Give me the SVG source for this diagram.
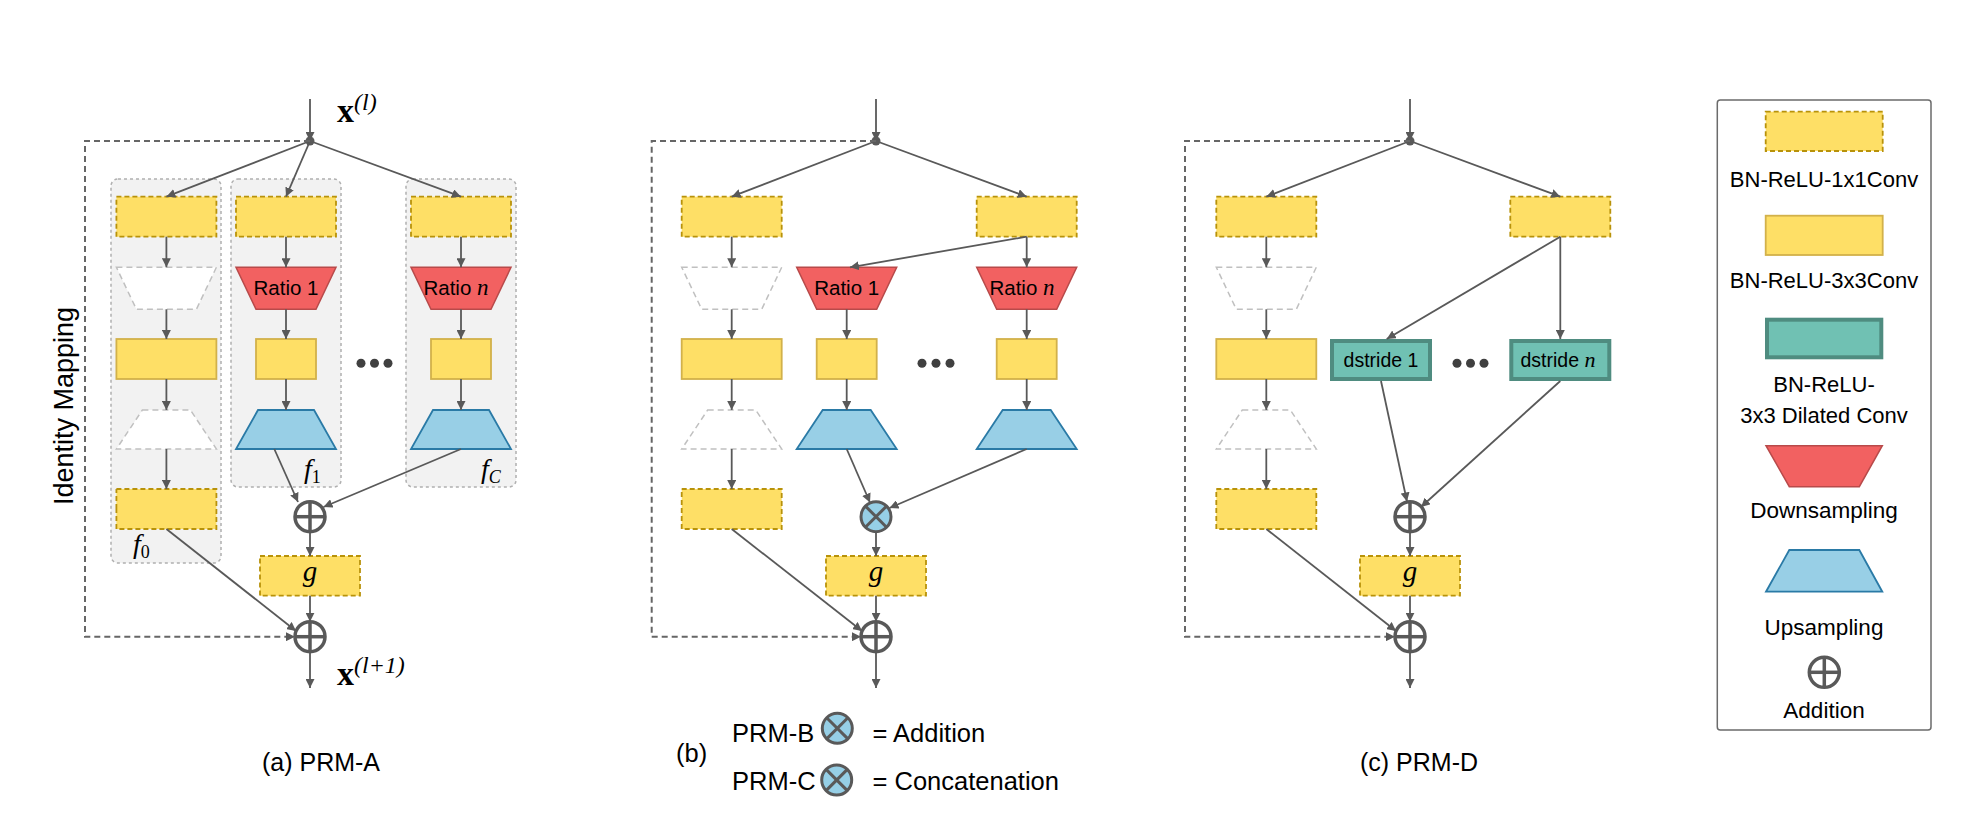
<svg xmlns="http://www.w3.org/2000/svg" width="1983" height="820" viewBox="0 0 1983 820">
<style>
.bg{fill:#ffffff}
.grp{fill:#f2f2f2;stroke:#b0b0b0;stroke-width:1.5;stroke-dasharray:3 3}
.c1{fill:#fedf66;stroke:#b8920a;stroke-width:1.8;stroke-dasharray:5 3}
.c3{fill:#fedf66;stroke:#d2b14a;stroke-width:1.8}
.ph{fill:#ffffff;stroke:#c0c0c0;stroke-width:1.5;stroke-dasharray:6 4}
.down{fill:#f26161;stroke:#b84a4a;stroke-width:1.5}
.up{fill:#98cfe6;stroke:#2a7aa6;stroke-width:1.8}
.dil{fill:#70c1b3;stroke:#4f8c80;stroke-width:4}
.ln{fill:none;stroke:#595959;stroke-width:1.8}
.idm{fill:none;stroke:#666666;stroke-width:2;stroke-dasharray:6 4}
.op{fill:#ffffff;stroke:#595959;stroke-width:3.5}
.cat{fill:#96cfe6;stroke:#595959;stroke-width:3}
.sym{stroke:#595959;stroke-width:3.5}
.t{font-family:"Liberation Sans",Arial,sans-serif;fill:#000000}
.m{font-family:"Liberation Serif","Times New Roman",serif;font-style:italic;fill:#000000}
.mb{font-family:"Liberation Serif","Times New Roman",serif;font-weight:bold;fill:#000000}
.dot{fill:#404040}
</style>
<defs>
<marker id="arr" markerUnits="userSpaceOnUse" markerWidth="10" markerHeight="9" refX="9" refY="4.5" orient="auto">
<path d="M0,0 L9,4.5 L0,9 z" fill="#595959"/>
</marker>
<g id="plus">
<circle r="15" class="op"/>
<line x1="-15" y1="0" x2="15" y2="0" class="sym"/>
<line x1="0" y1="-15" x2="0" y2="15" class="sym"/>
</g>
<g id="cross">
<circle r="15" class="cat"/>
<line x1="-10.6" y1="-10.6" x2="10.6" y2="10.6" stroke="#595959" stroke-width="3"/>
<line x1="-10.6" y1="10.6" x2="10.6" y2="-10.6" stroke="#595959" stroke-width="3"/>
</g>
</defs>
<rect class="bg" x="0" y="0" width="1983" height="820"/>

<!-- ============ Panel A ============ -->
<g id="panelA-groups">
<rect id="grp-f0" class="grp" x="111" y="179" width="110" height="384" rx="7"/>
<rect id="grp-f1" class="grp" x="231" y="179" width="110" height="308" rx="7"/>
<rect id="grp-fC" class="grp" x="406" y="179" width="110" height="308" rx="7"/>
</g>
<g id="A-f0">
<rect class="c1" x="116.4" y="196.7" width="100" height="40"/>
<polygon class="ph" points="116.4,267.3 216.4,267.3 196.4,309.3 136.4,309.3"/>
<rect class="c3" x="116.4" y="339" width="100" height="40"/>
<polygon class="ph" points="142.4,410 190.4,410 216.4,449 116.4,449"/>
<rect class="c1" x="116.4" y="489" width="100" height="40"/>
<text class="m" x="133" y="553" font-size="28">f<tspan font-size="18" font-style="normal" dy="5">0</tspan></text>
</g>
<g id="A-f1">
<rect class="c1" x="236" y="196.7" width="100" height="40"/>
<polygon class="down" points="236,267.3 336,267.3 316,309.3 256,309.3"/>
<text class="t" x="286" y="295" font-size="20.5" text-anchor="middle">Ratio 1</text>
<rect class="c3" x="256" y="339" width="60" height="40"/>
<polygon class="up" points="258,410 314,410 336,449 236,449"/>
<text class="m" x="304" y="478" font-size="28">f<tspan font-size="18" font-style="normal" dy="5">1</tspan></text>
</g>
<g id="A-fC">
<rect class="c1" x="411" y="196.7" width="100" height="40"/>
<polygon class="down" points="411,267.3 511,267.3 491,309.3 431,309.3"/>
<text class="t" x="456" y="295" font-size="20.5" text-anchor="middle">Ratio <tspan class="m" font-size="23">n</tspan></text>
<rect class="c3" x="431" y="339" width="60" height="40"/>
<polygon class="up" points="433,410 489,410 511,449 411,449"/>
<text class="m" x="481" y="478" font-size="28">f<tspan font-size="18" dy="5">C</tspan></text>
</g>
<g id="A-dots">
<circle class="dot" cx="361" cy="363.3" r="4.5"/>
<circle class="dot" cx="374.5" cy="363.3" r="4.5"/>
<circle class="dot" cx="388" cy="363.3" r="4.5"/>
</g>
<g id="A-sum1"><use href="#plus" x="310" y="516.7"/></g>
<g id="A-g"><rect class="c1" x="260" y="556" width="100" height="39.7"/>
<text class="m" x="310" y="581" font-size="29" text-anchor="middle">g</text></g>
<g id="A-sum2"><use href="#plus" x="310" y="636.7"/></g>
<g id="A-labels">
<text class="mb" x="337" y="122" font-size="34">x<tspan class="m" font-weight="normal" font-style="normal" font-size="24" dy="-12">(</tspan><tspan class="m" font-weight="normal" font-size="24">l</tspan><tspan class="m" font-weight="normal" font-style="normal" font-size="24">)</tspan></text>
<text class="mb" x="337" y="685" font-size="34">x<tspan class="m" font-weight="normal" font-style="normal" font-size="24" dy="-12">(</tspan><tspan class="m" font-weight="normal" font-size="24">l</tspan><tspan class="m" font-weight="normal" font-style="normal" font-size="24">+1)</tspan></text>
<text class="t" x="73" y="406" font-size="27" text-anchor="middle" transform="rotate(-90 73 406)">Identity Mapping</text>
<text class="t" x="321" y="771" font-size="25" text-anchor="middle">(a) PRM-A</text>
</g>

<!-- ============ Panel B ============ -->
<g id="B-left">
<rect class="c1" x="681.7" y="196.7" width="100" height="40"/>
<polygon class="ph" points="681.7,267.3 781.7,267.3 761.7,309.3 701.7,309.3"/>
<rect class="c3" x="681.7" y="339" width="100" height="40"/>
<polygon class="ph" points="707.7,410 755.7,410 781.7,449 681.7,449"/>
<rect class="c1" x="681.7" y="489" width="100" height="40"/>
</g>
<g id="B-right1x1"><rect class="c1" x="976.7" y="196.7" width="100" height="40"/></g>
<g id="B-ratio1">
<polygon class="down" points="796.7,267.3 896.7,267.3 876.7,309.3 816.7,309.3"/>
<text class="t" x="846.7" y="295" font-size="20.5" text-anchor="middle">Ratio 1</text>
<rect class="c3" x="816.7" y="339" width="60" height="40"/>
<polygon class="up" points="822.7,410 870.7,410 896.7,449 796.7,449"/>
</g>
<g id="B-ration">
<polygon class="down" points="976.7,267.3 1076.7,267.3 1056.7,309.3 996.7,309.3"/>
<text class="t" x="1022" y="295" font-size="20.5" text-anchor="middle">Ratio <tspan class="m" font-size="23">n</tspan></text>
<rect class="c3" x="996.7" y="339" width="60" height="40"/>
<polygon class="up" points="1002.7,410 1050.7,410 1076.7,449 976.7,449"/>
</g>
<g id="B-dots">
<circle class="dot" cx="922" cy="363.3" r="4.5"/>
<circle class="dot" cx="936" cy="363.3" r="4.5"/>
<circle class="dot" cx="950" cy="363.3" r="4.5"/>
</g>
<g id="B-comb"><use href="#cross" x="876" y="516.7"/></g>
<g id="B-g"><rect class="c1" x="826" y="556" width="100" height="39.7"/>
<text class="m" x="876" y="581" font-size="29" text-anchor="middle">g</text></g>
<g id="B-sum2"><use href="#plus" x="876" y="636.7"/></g>
<g id="B-caption">
<text class="t" x="676" y="762" font-size="25.5">(b)</text>
<text class="t" x="732" y="741.5" font-size="25.5">PRM-B</text>
<use href="#cross" x="837.3" y="728.3"/>
<text class="t" x="872.5" y="741.5" font-size="25.5">= Addition</text>
<text class="t" x="732" y="790" font-size="25.5">PRM-C</text>
<use href="#cross" x="836.7" y="780"/>
<text class="t" x="872.5" y="790" font-size="25.5">= Concatenation</text>
</g>

<!-- ============ Panel C ============ -->
<g id="C-left">
<rect class="c1" x="1216.3" y="196.7" width="100" height="40"/>
<polygon class="ph" points="1216.3,267.3 1316.3,267.3 1296.3,309.3 1236.3,309.3"/>
<rect class="c3" x="1216.3" y="339" width="100" height="40"/>
<polygon class="ph" points="1242.3,410 1290.3,410 1316.3,449 1216.3,449"/>
<rect class="c1" x="1216.3" y="489" width="100" height="40"/>
</g>
<g id="C-right1x1"><rect class="c1" x="1510.3" y="196.7" width="100" height="40"/></g>
<g id="C-d1"><rect class="dil" x="1332" y="341" width="98" height="38"/>
<text class="t" x="1381" y="367.3" font-size="19.5" text-anchor="middle">dstride 1</text></g>
<g id="C-dn"><rect class="dil" x="1511.3" y="341" width="98" height="38"/>
<text class="t" x="1558" y="367.3" font-size="19.5" text-anchor="middle">dstride <tspan class="m" font-size="22">n</tspan></text></g>
<g id="C-dots">
<circle class="dot" cx="1457" cy="363.3" r="4.5"/>
<circle class="dot" cx="1470.5" cy="363.3" r="4.5"/>
<circle class="dot" cx="1484" cy="363.3" r="4.5"/>
</g>
<g id="C-sum1"><use href="#plus" x="1410" y="516.7"/></g>
<g id="C-g"><rect class="c1" x="1360" y="556" width="100" height="39.7"/>
<text class="m" x="1410" y="581" font-size="29" text-anchor="middle">g</text></g>
<g id="C-sum2"><use href="#plus" x="1410" y="636.7"/></g>
<g id="C-caption"><text class="t" x="1419" y="771" font-size="25" text-anchor="middle">(c) PRM-D</text></g>

<!-- ============ Legend ============ -->
<g id="legend">
<rect x="1717.3" y="100" width="213.7" height="630" rx="3" fill="#ffffff" stroke="#6b6b6b" stroke-width="1.5"/>
<rect class="c1" x="1765.7" y="111.7" width="117" height="39.3"/>
<text class="t" x="1824" y="186.7" font-size="22" text-anchor="middle">BN-ReLU-1x1Conv</text>
<rect class="c3" x="1765.7" y="215.7" width="117" height="39.3"/>
<text class="t" x="1824" y="288.3" font-size="22" text-anchor="middle">BN-ReLU-3x3Conv</text>
<rect class="dil" x="1767" y="319.7" width="114.3" height="37.6"/>
<text class="t" x="1824" y="391.7" font-size="22" text-anchor="middle">BN-ReLU-</text>
<text class="t" x="1824" y="423.3" font-size="22" text-anchor="middle">3x3 Dilated Conv</text>
<polygon class="down" points="1766,445.7 1882.3,445.7 1859.3,486.7 1789.3,486.7"/>
<text class="t" x="1824" y="518.3" font-size="22.5" text-anchor="middle">Downsampling</text>
<polygon class="up" points="1789.3,550 1859.3,550 1882.3,591.7 1766,591.7"/>
<text class="t" x="1824" y="635" font-size="22.5" text-anchor="middle">Upsampling</text>
<use href="#plus" x="1824.3" y="672.3"/>
<text class="t" x="1824" y="718.3" font-size="22.5" text-anchor="middle">Addition</text>
</g>

<!-- ============ Connectors ============ -->
<g id="connectors">
<!-- Panel A -->
<line class="ln" x1="310" y1="99" x2="310" y2="141" marker-end="url(#arr)"/>
<circle cx="310" cy="141" r="4.5" fill="#595959"/>
<line class="ln" x1="310" y1="141" x2="166.4" y2="196.7" marker-end="url(#arr)"/>
<line class="ln" x1="310" y1="141" x2="286" y2="196.7" marker-end="url(#arr)"/>
<line class="ln" x1="310" y1="141" x2="461" y2="196.7" marker-end="url(#arr)"/>
<line class="ln" x1="166.4" y1="236.7" x2="166.4" y2="267.3" marker-end="url(#arr)"/>
<line class="ln" x1="166.4" y1="309.3" x2="166.4" y2="339" marker-end="url(#arr)"/>
<line class="ln" x1="166.4" y1="379" x2="166.4" y2="410" marker-end="url(#arr)"/>
<line class="ln" x1="166.4" y1="449" x2="166.4" y2="489" marker-end="url(#arr)"/>
<line class="ln" x1="286" y1="236.7" x2="286" y2="267.3" marker-end="url(#arr)"/>
<line class="ln" x1="286" y1="309.3" x2="286" y2="339" marker-end="url(#arr)"/>
<line class="ln" x1="286" y1="379" x2="286" y2="410" marker-end="url(#arr)"/>
<line class="ln" x1="461" y1="236.7" x2="461" y2="267.3" marker-end="url(#arr)"/>
<line class="ln" x1="461" y1="309.3" x2="461" y2="339" marker-end="url(#arr)"/>
<line class="ln" x1="461" y1="379" x2="461" y2="410" marker-end="url(#arr)"/>
<line class="ln" x1="274.3" y1="449" x2="298" y2="502" marker-end="url(#arr)"/>
<line class="ln" x1="461" y1="449" x2="323.5" y2="507" marker-end="url(#arr)"/>
<line class="ln" x1="310" y1="531.7" x2="310" y2="556" marker-end="url(#arr)"/>
<line class="ln" x1="310" y1="595.7" x2="310" y2="621.7" marker-end="url(#arr)"/>
<line class="ln" x1="166.4" y1="529" x2="296" y2="631" marker-end="url(#arr)"/>
<polyline class="idm" points="310,141 85,141 85,636.7 295,636.7" marker-end="url(#arr)"/>
<line class="ln" x1="310" y1="651.7" x2="310" y2="688" marker-end="url(#arr)"/>
<!-- Panel B -->
<line class="ln" x1="876" y1="99" x2="876" y2="141" marker-end="url(#arr)"/>
<circle cx="876" cy="141" r="4.5" fill="#595959"/>
<line class="ln" x1="876" y1="141" x2="731.7" y2="196.7" marker-end="url(#arr)"/>
<line class="ln" x1="876" y1="141" x2="1026.7" y2="196.7" marker-end="url(#arr)"/>
<line class="ln" x1="731.7" y1="236.7" x2="731.7" y2="267.3" marker-end="url(#arr)"/>
<line class="ln" x1="731.7" y1="309.3" x2="731.7" y2="339" marker-end="url(#arr)"/>
<line class="ln" x1="731.7" y1="379" x2="731.7" y2="410" marker-end="url(#arr)"/>
<line class="ln" x1="731.7" y1="449" x2="731.7" y2="489" marker-end="url(#arr)"/>
<line class="ln" x1="1026.7" y1="236.7" x2="850" y2="267.3" marker-end="url(#arr)"/>
<line class="ln" x1="1026.7" y1="236.7" x2="1026.7" y2="267.3" marker-end="url(#arr)"/>
<line class="ln" x1="846.7" y1="309.3" x2="846.7" y2="339" marker-end="url(#arr)"/>
<line class="ln" x1="846.7" y1="379" x2="846.7" y2="410" marker-end="url(#arr)"/>
<line class="ln" x1="1026.7" y1="309.3" x2="1026.7" y2="339" marker-end="url(#arr)"/>
<line class="ln" x1="1026.7" y1="379" x2="1026.7" y2="410" marker-end="url(#arr)"/>
<line class="ln" x1="846.7" y1="449" x2="870" y2="502.5" marker-end="url(#arr)"/>
<line class="ln" x1="1026.7" y1="449" x2="889.5" y2="508" marker-end="url(#arr)"/>
<line class="ln" x1="876" y1="531.7" x2="876" y2="556" marker-end="url(#arr)"/>
<line class="ln" x1="876" y1="595.7" x2="876" y2="621.7" marker-end="url(#arr)"/>
<line class="ln" x1="731.7" y1="529" x2="862" y2="631" marker-end="url(#arr)"/>
<polyline class="idm" points="876,141 651.7,141 651.7,636.7 861,636.7" marker-end="url(#arr)"/>
<line class="ln" x1="876" y1="651.7" x2="876" y2="688" marker-end="url(#arr)"/>
<!-- Panel C -->
<line class="ln" x1="1410" y1="99" x2="1410" y2="141" marker-end="url(#arr)"/>
<circle cx="1410" cy="141" r="4.5" fill="#595959"/>
<line class="ln" x1="1410" y1="141" x2="1266.3" y2="196.7" marker-end="url(#arr)"/>
<line class="ln" x1="1410" y1="141" x2="1560.3" y2="196.7" marker-end="url(#arr)"/>
<line class="ln" x1="1266.3" y1="236.7" x2="1266.3" y2="267.3" marker-end="url(#arr)"/>
<line class="ln" x1="1266.3" y1="309.3" x2="1266.3" y2="339" marker-end="url(#arr)"/>
<line class="ln" x1="1266.3" y1="379" x2="1266.3" y2="410" marker-end="url(#arr)"/>
<line class="ln" x1="1266.3" y1="449" x2="1266.3" y2="489" marker-end="url(#arr)"/>
<line class="ln" x1="1560.3" y1="236.7" x2="1386.7" y2="339" marker-end="url(#arr)"/>
<line class="ln" x1="1560.3" y1="236.7" x2="1560.3" y2="339" marker-end="url(#arr)"/>
<line class="ln" x1="1381" y1="381" x2="1407" y2="501.5" marker-end="url(#arr)"/>
<line class="ln" x1="1560.3" y1="381" x2="1421" y2="507" marker-end="url(#arr)"/>
<line class="ln" x1="1410" y1="531.7" x2="1410" y2="556" marker-end="url(#arr)"/>
<line class="ln" x1="1410" y1="595.7" x2="1410" y2="621.7" marker-end="url(#arr)"/>
<line class="ln" x1="1266.3" y1="529" x2="1396" y2="631" marker-end="url(#arr)"/>
<polyline class="idm" points="1410,141 1185,141 1185,636.7 1395,636.7" marker-end="url(#arr)"/>
<line class="ln" x1="1410" y1="651.7" x2="1410" y2="688" marker-end="url(#arr)"/>
</g>
</svg>
